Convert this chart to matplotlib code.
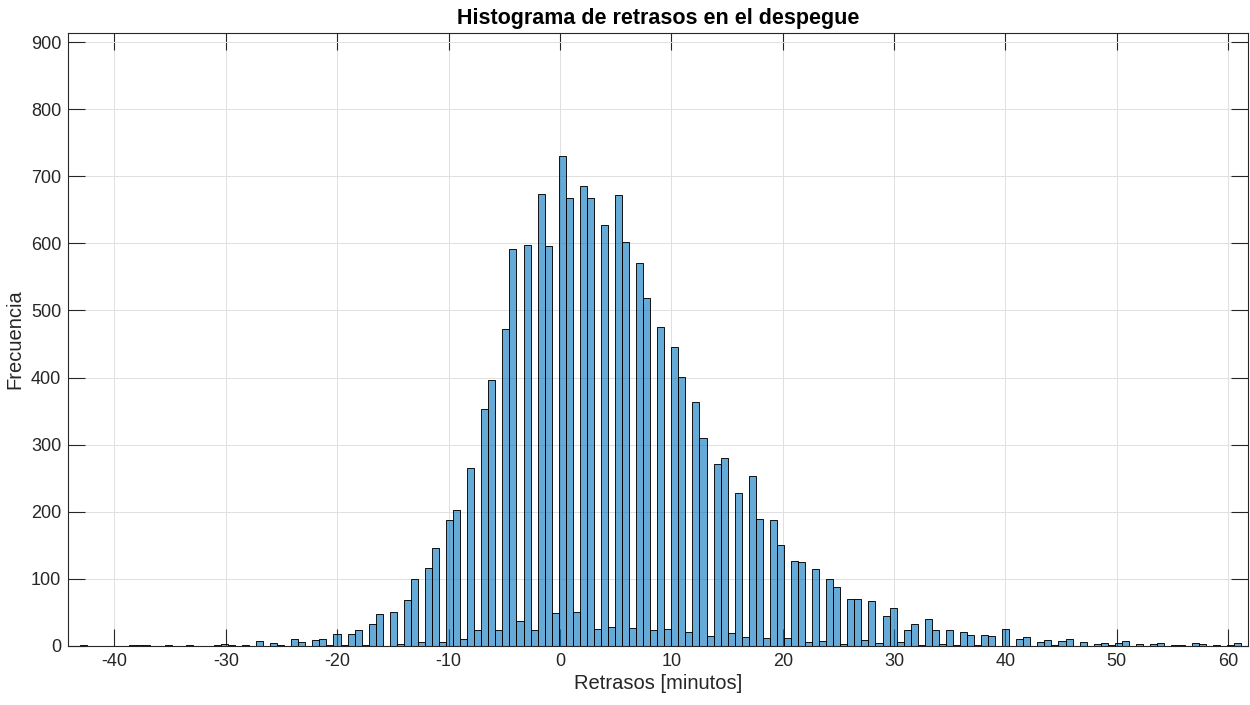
import matplotlib
matplotlib.use("Agg")
import matplotlib.pyplot as plt
import numpy as np

plt.rcParams['font.family'] = ['Liberation Sans', 'DejaVu Sans']

# Histogram data (bin edges = first_edge + k*bin_width)
first_edge = 10.0 - 84 * 0.632
bin_width = 0.632
counts = [
    1, 0, 0, 0, 0, 0, 0, 1, 1, 1,          # k=-84..-75
    0, 0, 1, 0, 0, 2, 0, 0, 0, 1,          # -74..-65
    3, 1, 0, 2, 0, 7, 0, 5, 2, 0,          # -64..-55
    10, 6, 0, 9, 10, 1, 18, 2, 18, 24,     # -54..-45
    2, 33, 48, 0, 51, 3, 68, 100, 6, 116,  # -44..-35
    146, 6, 188, 203, 10, 266, 24, 353, 397, 24,   # -34..-25
    472, 591, 37, 598, 24, 674, 596, 49, 730, 668, # -24..-15
    51, 685, 668, 25, 627, 28, 672, 602, 27, 571,  # -14..-5
    518, 24, 475, 25, 446, 401, 21, 363, 310, 15,  # -4..5
    271, 280, 19, 228, 13, 253, 189, 12, 188, 151, # 6..15
    12, 127, 125, 6, 115, 8, 100, 88, 3, 70,       # 16..25
    70, 9, 67, 4, 45, 56, 6, 24, 33, 1,            # 26..35
    40, 24, 3, 24, 1, 21, 16, 1, 16, 15,           # 36..45
    0, 25, 0, 10, 13, 0, 6, 9, 1, 7,               # 46..55
    10, 0, 6, 0, 3, 5, 1, 5, 7, 0,                 # 56..65
    3, 0, 3, 4, 0, 1, 1, 0, 4, 3,                  # 66..75
    0, 1, 0, 1, 4,                                 # 76..80
]
x_ticks = [-40, -30, -20, -10, 0, 10, 20, 30, 40, 50, 60]
y_ticks = [0, 100, 200, 300, 400, 500, 600, 700, 800, 900]

title = "Histograma de retrasos en el despegue"
xlabel = "Retrasos [minutos]"
ylabel = "Frecuencia"

edges = first_edge + bin_width * np.arange(len(counts) + 1)

fig = plt.figure(figsize=(12.5, 7.05), dpi=100)
ax = fig.add_axes([0.0546, 0.0837, 0.944, 0.8699])

ax.bar(edges[:-1], counts, width=bin_width, align='edge',
       color=(0.0, 0.447, 0.741), alpha=0.6, edgecolor='black',
       linewidth=0.7, zorder=2)
ax.bar(edges[:-1], counts, width=bin_width, align='edge',
       facecolor='none', edgecolor='black', alpha=0.75,
       linewidth=0.7, zorder=3)

ax.set_xlim(-44.15, 61.8)
ax.set_ylim(0, 914)
ax.set_xticks(x_ticks)
ax.set_yticks(y_ticks)
ax.set_xticklabels([str(t) for t in x_ticks])
ax.set_yticklabels([str(t) for t in y_ticks])

axc = '#262626'
for s in ax.spines.values():
    s.set_color(axc)
    s.set_linewidth(0.8)
ax.tick_params(direction='in', length=12, width=0.8, color=axc,
               labelcolor=axc, labelsize=13, top=True, right=True,
               pad=5)
ax.grid(True, color='#e0e0e0', linewidth=0.7, zorder=0)
ax.set_axisbelow(True)

ax.set_title(title, fontsize=15.5, fontweight='bold', color='black', pad=6)
ax.set_xlabel(xlabel, fontsize=14.5, color=axc, labelpad=3)
ax.set_ylabel(ylabel, fontsize=14.5, color=axc, labelpad=5)

fig.savefig("out.png", dpi=100)
